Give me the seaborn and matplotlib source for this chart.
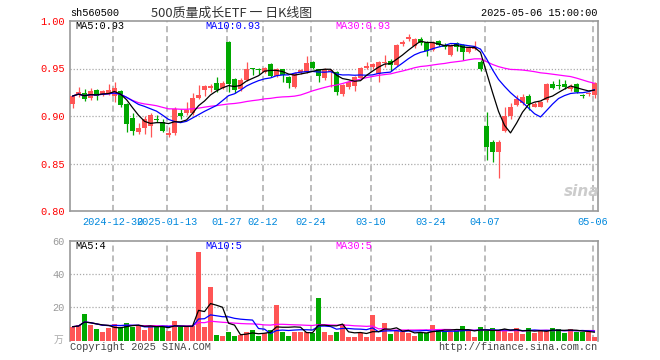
import numpy as np
import pandas as pd
import matplotlib
matplotlib.use("Agg")
import matplotlib.pyplot as plt
import seaborn as sns

# ---------------- data ----------------
opens = [0.913, 0.922, 0.924, 0.919, 0.927, 0.923, 0.924, 0.921, 0.926, 0.913,
         0.898, 0.883, 0.887, 0.890, 0.897, 0.894, 0.880, 0.882, 0.903, 0.903,
         0.903, 0.919, 0.927, 0.930, 0.935, 0.930, 0.978, 0.939, 0.928, 0.938,
         0.950, 0.949, 0.946, 0.955, 0.942, 0.949, 0.941, 0.931, 0.946, 0.946,
         0.957, 0.949, 0.940, 0.946, 0.946, 0.923, 0.931, 0.932, 0.940, 0.951,
         0.952, 0.944, 0.956, 0.958, 0.954, 0.976, 0.981, 0.974, 0.981, 0.978,
         0.970, 0.979, 0.975, 0.964, 0.977, 0.975, 0.967, 0.971, 0.957, 0.889,
         0.873, 0.862, 0.884, 0.900, 0.912, 0.914, 0.921, 0.910, 0.910, 0.917,
         0.934, 0.933, 0.934, 0.928, 0.934, 0.922, 0.923, 0.922]
closes = [0.921, 0.925, 0.918, 0.926, 0.921, 0.926, 0.927, 0.929, 0.912, 0.892,
          0.884, 0.887, 0.897, 0.901, 0.896, 0.884, 0.882, 0.907, 0.900, 0.906,
          0.919, 0.922, 0.932, 0.932, 0.927, 0.935, 0.934, 0.927, 0.938, 0.950,
          0.949, 0.948, 0.951, 0.942, 0.950, 0.943, 0.935, 0.945, 0.948, 0.956,
          0.951, 0.942, 0.949, 0.948, 0.925, 0.933, 0.936, 0.941, 0.951, 0.953,
          0.955, 0.957, 0.957, 0.954, 0.975, 0.978, 0.983, 0.981, 0.977, 0.968,
          0.978, 0.975, 0.973, 0.975, 0.973, 0.967, 0.973, 0.973, 0.949, 0.867,
          0.862, 0.873, 0.900, 0.909, 0.918, 0.920, 0.913, 0.913, 0.915, 0.934,
          0.930, 0.932, 0.931, 0.931, 0.925, 0.921, 0.924, 0.935]
highs = [0.922, 0.931, 0.928, 0.930, 0.928, 0.927, 0.934, 0.936, 0.927, 0.914,
         0.903, 0.893, 0.900, 0.903, 0.901, 0.897, 0.888, 0.909, 0.907, 0.915,
         0.924, 0.933, 0.933, 0.934, 0.941, 0.937, 0.979, 0.940, 0.940, 0.957,
         0.951, 0.951, 0.952, 0.956, 0.951, 0.950, 0.942, 0.946, 0.950, 0.963,
         0.958, 0.950, 0.951, 0.949, 0.947, 0.934, 0.938, 0.942, 0.952, 0.957,
         0.956, 0.958, 0.964, 0.960, 0.976, 0.980, 0.986, 0.982, 0.983, 0.979,
         0.979, 0.980, 0.977, 0.976, 0.978, 0.976, 0.974, 0.979, 0.959, 0.904,
         0.875, 0.875, 0.909, 0.914, 0.922, 0.923, 0.923, 0.915, 0.916, 0.935,
         0.937, 0.939, 0.938, 0.934, 0.935, 0.923, 0.925, 0.936]
lows = [0.908, 0.920, 0.916, 0.917, 0.917, 0.921, 0.922, 0.915, 0.910, 0.883,
        0.880, 0.881, 0.881, 0.878, 0.894, 0.883, 0.878, 0.880, 0.897, 0.901,
        0.901, 0.918, 0.921, 0.925, 0.925, 0.928, 0.925, 0.924, 0.926, 0.937,
        0.943, 0.944, 0.945, 0.941, 0.941, 0.936, 0.929, 0.930, 0.944, 0.945,
        0.950, 0.936, 0.938, 0.931, 0.922, 0.921, 0.928, 0.926, 0.939, 0.949,
        0.950, 0.936, 0.952, 0.947, 0.953, 0.974, 0.979, 0.972, 0.975, 0.963,
        0.968, 0.974, 0.971, 0.963, 0.968, 0.959, 0.966, 0.970, 0.947, 0.854,
        0.852, 0.835, 0.883, 0.897, 0.911, 0.912, 0.906, 0.909, 0.909, 0.915,
        0.928, 0.928, 0.928, 0.926, 0.924, 0.919, 0.921, 0.919]
volumes = [8.4, 9.2, 16, 9.6, 7.2, 5.4, 7.8, 9.8, 8.4, 10.8,
           8.4, 9.2, 6.4, 9.4, 8.8, 8.4, 6, 12, 8.4, 8.4,
           8.8, 53.4, 8.4, 32.4, 3.4, 2.8, 5.4, 2.8, 3.4, 5.4,
           6.4, 2.8, 4.4, 6.4, 21.4, 5.4, 2.8, 5.4, 5.4, 5.4,
           4.8, 25.6, 5.4, 3.4, 5.4, 10, 2.4, 2.4, 4.4, 2.4,
           15.4, 2.4, 10.4, 4, 6.4, 5.4, 4.8, 2.8, 5.4, 4.8,
           9.4, 6.4, 6, 5.4, 6.4, 8.8, 6.4, 2.4, 8.4, 6,
           7.6, 6.4, 6.8, 4.8, 7.6, 4, 7.6, 4.8, 6, 6,
           7.6, 6.8, 4.8, 6.8, 5.4, 5.4, 5.4, 2.4]
tick_idx = [7, 16, 26, 32, 40, 50, 60, 69, 87]
tick_labels = ["2024-12-30", "2025-01-13", "01-27", "02-12", "02-24",
               "03-10", "03-24", "04-07", "05-06"]
price_ticks = [0.80, 0.85, 0.90, 0.95, 1.00]
price_tick_labels = ["0.80", "0.85", "0.90", "0.95", "1.00"]
vol_ticks = [20, 40, 60]
vol_tick_labels = ["20", "40", "60"]

# ---------------- style ----------------
sns.set_style("white")
plt.rcParams["font.family"] = ["Liberation Mono", "Noto Sans CJK SC", "DejaVu Sans"]
plt.rcParams["axes.unicode_minus"] = False

RED = "#ff5555"
GREEN = "#00a800"
GRID = "#aaaaaa"
SPINE = "#999999"

n = len(closes)
idx = np.arange(n)
df = pd.DataFrame({"idx": idx, "open": opens, "close": closes,
                   "high": highs, "low": lows, "vol": volumes})
df["dir"] = np.where(df["close"] >= df["open"], "up", "down")
for w in (5, 10, 30):
    df[f"ma{w}"] = df["close"].rolling(w, min_periods=1).mean()
    df[f"vma{w}"] = df["vol"].rolling(w, min_periods=1).mean()

W, H = 660, 360
fig = plt.figure(figsize=(6.6, 3.6), dpi=100)
XL = (-0.42, 87.58)

def fx(px):
    return px / W

def fy(py):
    return 1 - py / H

ax = fig.add_axes([fx(70), fy(211), 528 / W, 190 / H])
axv = fig.add_axes([fx(70), fy(340.7), 528 / W, 100 / H])

colors = np.where(df["dir"] == "up", RED, GREEN)

# ---------- grids ----------
for a, hl in ((ax, [0.85, 0.90, 0.95]), (axv, [20, 40])):
    for t in tick_idx:
        a.axvline(t - 0.3, color=GRID, lw=1.1, ls=(0, (4, 2.5)), zorder=0)
    for h in hl:
        a.axhline(h, color=GRID, lw=0.9, ls=(0, (1, 1.5)), zorder=0)

# ---------- candles ----------
ax.vlines(df["idx"], df["low"], df["high"], colors=colors, lw=0.9, zorder=2)
body_bottom = np.minimum(df["open"], df["close"])
body_h = np.maximum(np.abs(df["close"] - df["open"]), 0.0011)
ax.bar(df["idx"], body_h, bottom=body_bottom, width=0.83, color=colors,
       linewidth=0, zorder=3)

for col, c in (("ma30", "#ff00ff"), ("ma10", "#0000ff"), ("ma5", "#000000")):
    sns.lineplot(data=df, x="idx", y=col, color=c, lw=0.9, ax=ax,
                 errorbar=None, zorder=4)

ax.set_xlim(*XL)
ax.set_ylim(0.80, 1.00)
ax.set_yticks(price_ticks)
ax.set_yticklabels(price_tick_labels)
ax.set_xticks([t - 0.3 for t in tick_idx])
ax.set_xticklabels(tick_labels)
ax.tick_params(axis="y", length=0, pad=4, labelsize=7.4, labelcolor="#ff0000")
ax.tick_params(axis="x", length=0, pad=4.5, labelsize=7.4, labelcolor="#0088dd")
ax.set_xlabel("")
ax.set_ylabel("")
for s in ax.spines.values():
    s.set_color(SPINE)
    s.set_linewidth(1.2)
    s.set_visible(True)

# ---------- volume ----------
sns.barplot(data=df, x="idx", y="vol", hue="dir", palette={"up": RED, "down": GREEN},
            native_scale=True, width=0.83, dodge=False, legend=False,
            saturation=1, errorbar=None, linewidth=0, ax=axv, zorder=3)
for col, c in (("vma30", "#ff00ff"), ("vma10", "#0000ff"), ("vma5", "#000000")):
    sns.lineplot(data=df, x="idx", y=col, color=c, lw=0.9, ax=axv,
                 errorbar=None, zorder=4)
axv.set_xlim(*XL)
axv.set_ylim(0, 60)
axv.set_yticks(vol_ticks)
axv.set_yticklabels(vol_tick_labels)
axv.set_xticks([])
axv.tick_params(axis="y", length=0, pad=4, labelsize=7.4, labelcolor="#999999")
axv.set_xlabel("")
axv.set_ylabel("")
for k, s in axv.spines.items():
    s.set_color(SPINE)
    s.set_linewidth(1.2)
    s.set_visible(k != "bottom")

# ---------- texts ----------
fs = 7.4
fig.text(fx(70), fy(13), "sh560500", fontsize=fs, color="#000000", va="center", ha="left")
fig.text(fx(232), fy(13), "500质量成长ETF 一 日K线图", fontsize=9.3, color="#333333",
         va="center", ha="center", family=["Noto Sans CJK SC", "DejaVu Sans"])
fig.text(fx(597), fy(13), "2025-05-06 15:00:00", fontsize=fs, color="#000000",
         va="center", ha="right")
fig.text(fx(75), fy(26), "MA5:0.93", fontsize=fs, color="#000000", va="center")
fig.text(fx(205), fy(26), "MA10:0.93", fontsize=fs, color="#0000ff", va="center")
fig.text(fx(335), fy(26), "MA30:0.93", fontsize=fs, color="#ff00ff", va="center")
fig.text(fx(75), fy(246), "MA5:4", fontsize=fs, color="#000000", va="center")
fig.text(fx(205), fy(246), "MA10:5", fontsize=fs, color="#0000ff", va="center")
fig.text(fx(335), fy(246), "MA30:5", fontsize=fs, color="#ff00ff", va="center")
fig.text(fx(63), fy(340), "万", fontsize=7, color="#aaaaaa", va="center", ha="right",
         family=["Noto Sans CJK SC", "DejaVu Sans"])
fig.text(fx(70), fy(346.5), "Copyright 2025 SINA.COM", fontsize=fs, color="#444444",
         va="center", ha="left")
fig.text(fx(597), fy(346.5), "http://finance.sina.com.cn", fontsize=fs, color="#444444",
         va="center", ha="right")
fig.text(fx(582), fy(192), "sina", fontsize=11, color="#cccccc", va="center",
         ha="center", style="italic", weight="bold", family=["DejaVu Sans"])

fig.savefig("out.png", dpi=100)
